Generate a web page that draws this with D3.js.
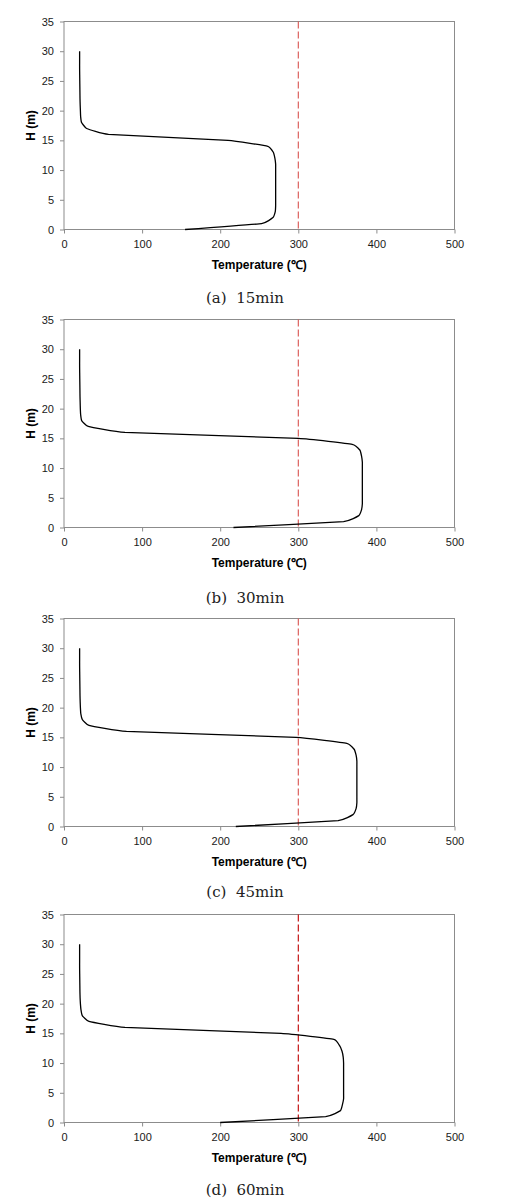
<!DOCTYPE html>
<html><head><meta charset="utf-8">
<script src="https://cdn.jsdelivr.net/npm/d3@7"></script>
<style>body{margin:0;background:#fff}svg{display:block}</style>
</head><body><svg id="c" width="506" height="1203"></svg>
<script>
// ---- data ----
const heights = [0,1,2,3,4,5,6,7,8,9,10,11,12,13,14,15,16,17,18,19,20,21,22,23,24,25,26,27,28,29,30];
const temp15 = [155,253,267.5,270.5,271,271,271,271,271,271,271,271,270,268,261,210,57,29,22.5,21.3,21,20.7,20.5,20.4,20.3,20.2,20.1,20,20,20,20];
const temp30 = [217,358,377.5,381,382,382,382,382,382,382,382,382,381,379,369,300,78,31,22.6,21.3,20.9,20.7,20.5,20.4,20.3,20.2,20.1,20,20,20,20];
const temp45 = [220,351,370,374,375,375,375,375,375,375,375,375,374,371.5,362,297,80,32,23.5,21.5,21,20.7,20.5,20.4,20.3,20.2,20.1,20,20,20,20];
const temp60 = [200,335,354,356.5,358,358,358,358,358,358,358,357.5,356,352.5,345.5,278,78,32,23.4,21.7,21,20.6,20.4,20.3,20.2,20.1,20,20,20,20,20];
const seriesList = [temp15, temp30, temp45, temp60];
const captions = ["(a)  15min", "(b)  30min", "(c)  45min", "(d)  60min"];
const xTicks = [0,100,200,300,400,500];
const yTicks = [0,5,10,15,20,25,30,35];
const limitTemp = 300;
const xTitle = "Temperature (\u2103)";
const yTitle = "H (m)";

// ---- layout ----
const panelTops = [21.5, 319.5, 618.5, 914.5];
const captionY = [302.5, 602.5, 897, 1195];
const limitColors = ["#d9534f", "#d9534f", "#d9534f", "#c00000"];
const left = 64, W = 390.5, H = 208;

const svg = d3.select("#c");
const x = d3.scaleLinear().domain([0, 500]).range([0, W]);
const y = d3.scaleLinear().domain([0, 35]).range([H, 0]);

seriesList.forEach((series, p) => {
  const g = svg.append("g").attr("transform", `translate(${left},${panelTops[p]})`);

  // y axis
  const ya = g.append("g").call(d3.axisLeft(y).tickValues(yTicks).tickSize(4).tickPadding(6));
  ya.select(".domain").remove();
  ya.selectAll("line").attr("stroke", "#8c8c8c");
  ya.selectAll("text").attr("font-family", "Liberation Sans, Arial, sans-serif").attr("font-size", 11).attr("fill", "#1a1a1a");

  // x axis
  const xa = g.append("g").attr("transform", `translate(0,${H})`)
    .call(d3.axisBottom(x).tickValues(xTicks).tickSize(4).tickPadding(7));
  xa.select(".domain").remove();
  xa.selectAll("line").attr("stroke", "#8c8c8c");
  xa.selectAll("text").attr("font-family", "Liberation Sans, Arial, sans-serif").attr("font-size", 11).attr("fill", "#1a1a1a");

  // plot border
  g.append("rect").attr("x", 0).attr("y", 0).attr("width", W).attr("height", H)
    .attr("fill", "none").attr("stroke", "#8c8c8c").attr("stroke-width", 1);

  // limit line
  g.append("line")
    .attr("x1", x(limitTemp)).attr("x2", x(limitTemp))
    .attr("y1", y(35)).attr("y2", y(0))
    .attr("stroke", limitColors[p]).attr("stroke-width", 1.1)
    .attr("stroke-dasharray", "7,3");

  // temperature profile
  const lineGen = d3.line()
    .x(d => x(d[0]))
    .y(d => y(d[1]))
    .curve(d3.curveCardinal.tension(0.7));
  const pts = series.map((t, i) => [t, heights[i]]);
  g.append("path").attr("d", lineGen(pts))
    .attr("fill", "none").attr("stroke", "#000").attr("stroke-width", 1.3)
    .attr("stroke-linejoin", "round");

  // titles
  g.append("text").attr("x", W / 2).attr("y", H + 39)
    .attr("text-anchor", "middle")
    .attr("font-family", "Liberation Sans, Arial, sans-serif").attr("font-weight", "bold")
    .attr("font-size", 12).attr("fill", "#000").text(xTitle);
  g.append("text")
    .attr("transform", `translate(${30 - left + 4.5},${H / 2}) rotate(-90)`)
    .attr("text-anchor", "middle")
    .attr("font-family", "Liberation Sans, Arial, sans-serif").attr("font-weight", "bold")
    .attr("font-size", 12).attr("fill", "#000").text(yTitle);

  // caption
  svg.append("text").attr("x", 245).attr("y", captionY[p])
    .attr("text-anchor", "middle")
    .attr("font-family", "DejaVu Serif, serif").attr("font-size", 15)
    .attr("fill", "#222").attr("xml:space", "preserve")
    .style("white-space", "pre").text(captions[p]);
});
</script></body></html>
